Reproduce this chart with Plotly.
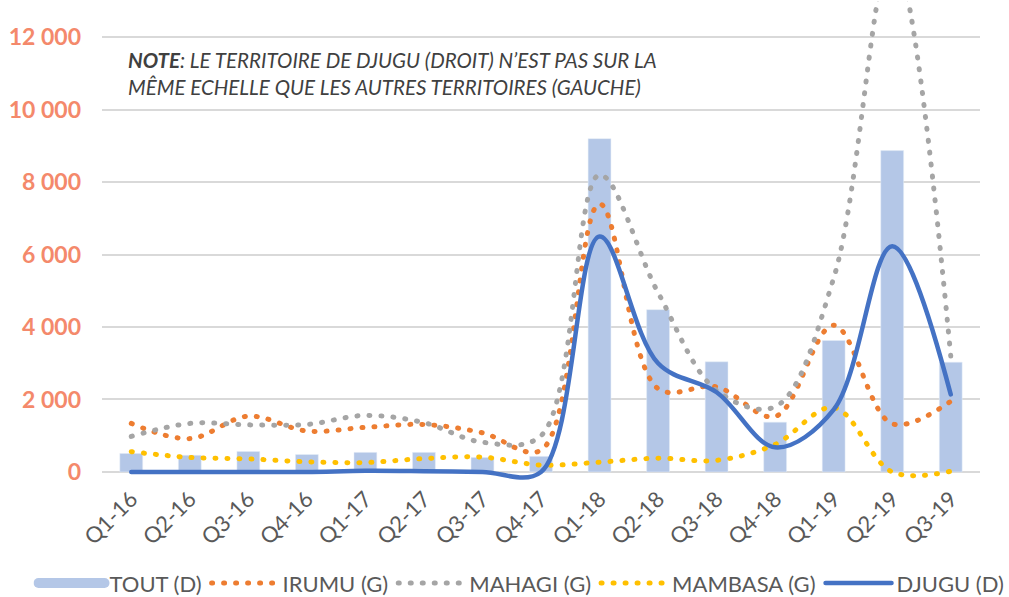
import plotly.graph_objects as go

quarters = ["Q1-16", "Q2-16", "Q3-16", "Q4-16", "Q1-17", "Q2-17", "Q3-17", "Q4-17",
            "Q1-18", "Q2-18", "Q3-18", "Q4-18", "Q1-19", "Q2-19", "Q3-19"]
tout = [510, 460, 565, 480, 540, 540, 400, 430, 9200, 4480, 3040, 1375, 3630, 8870, 3030]
irumu = [1340, 920, 1540, 1130, 1230, 1310, 1080, 600, 7400, 2300, 2350, 1530, 4050, 1330, 1950]
mahagi = [980, 1340, 1300, 1310, 1560, 1360, 820, 1000, 8200, 4950, 2250, 1800, 5350, 14300, 3200]
mambasa = [560, 400, 360, 280, 260, 370, 410, 190, 270, 380, 320, 760, 1780, 0, 20]
djugu = [0, 0, 0, 0, 30, 20, 0, 0, 6500, 3000, 2200, 680, 1720, 6230, 2140]

y_ticks = [0, 2000, 4000, 6000, 8000, 10000, 12000]
y_labels = ["0", "2 000", "4 000", "6 000", "8 000", "10 000", "12 000"]

FONT = "Lato"
GREY_TXT = "#595959"
DOT = "1px,11px"
BAR_C = "#B4C7E7"

fig = go.Figure()
fig.add_trace(go.Bar(x=quarters, y=tout, name="TOUT (D)", marker_color=BAR_C,
                     showlegend=False, legendgroup="tout"))
# legend entry for the bars: wide swatch as in the reference
fig.add_trace(go.Scatter(x=[None], y=[None], name="TOUT (D)", mode="lines",
                         line=dict(color=BAR_C, width=11), legendgroup="tout"))
fig.add_trace(go.Scatter(x=quarters, y=irumu, name="IRUMU (G)", mode="lines",
                         line=dict(color="#ED7D31", width=5, dash=DOT, shape="spline", smoothing=1)))
fig.add_trace(go.Scatter(x=quarters, y=mahagi, name="MAHAGI (G)", mode="lines",
                         line=dict(color="#A5A5A5", width=5, dash=DOT, shape="spline", smoothing=1)))
fig.add_trace(go.Scatter(x=quarters, y=mambasa, name="MAMBASA (G)", mode="lines",
                         line=dict(color="#FFC000", width=5, dash=DOT, shape="spline", smoothing=1)))
fig.add_trace(go.Scatter(x=quarters, y=djugu, name="DJUGU (D)", mode="lines",
                         line=dict(color="#4472C4", width=4.5, shape="spline", smoothing=1)))

fig.add_annotation(
    text="<b><i>NOTE</i></b><i>: LE TERRITOIRE DE DJUGU (DROIT) N’EST PAS SUR LA</i><br>"
         "<i>MÊME ECHELLE QUE LES AUTRES TERRITOIRES (GAUCHE)</i>",
    xref="paper", yref="paper", x=0.027, y=0.907, xanchor="left", yanchor="top",
    align="left", showarrow=False, font=dict(family=FONT, size=20.5, color="#404040"))

fig.update_layout(
    width=1009, height=597,
    margin=dict(l=102, r=29, t=1, b=116, autoexpand=False),
    paper_bgcolor="white", plot_bgcolor="white",
    bargap=0.61,
    showlegend=True,
    legend=dict(orientation="h", x=-0.078, xanchor="left",
                y=-0.213, yanchor="middle",
                font=dict(family=FONT, size=22, color=GREY_TXT), itemwidth=66,
                traceorder="normal"),
    xaxis=dict(tickangle=-45, tickfont=dict(family=FONT, size=22, color=GREY_TXT),
               showgrid=False, showline=False, ticks="", automargin=False),
    yaxis=dict(range=[-250, 13000], tickvals=y_ticks, ticktext=y_labels,
               tickfont=dict(family=FONT, size=23, color="#F4896B", weight="bold"),
               showgrid=True, gridcolor="#D9D9D9", gridwidth=1.5, zeroline=False,
               ticklabelstandoff=20, showline=False, ticks="", automargin=False),
)

post = ("document.body.style.margin='0';"
        "document.querySelectorAll('path.js-line').forEach(function(p){"
        "p.style.strokeLinecap='round';});")
fig.write_html("out.html", post_script=post, config={"displayModeBar": False})
